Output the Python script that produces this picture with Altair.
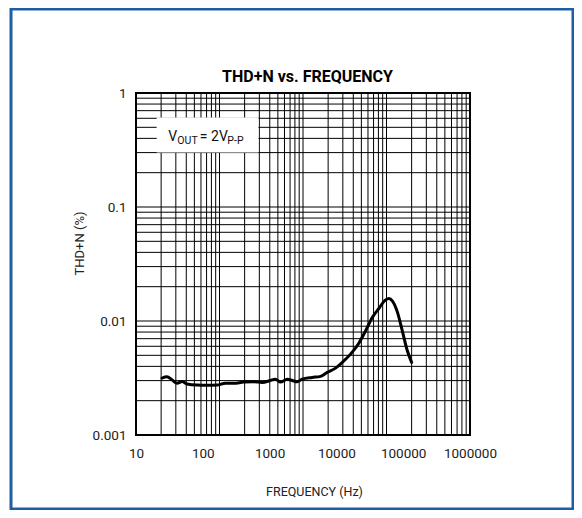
import altair as alt
import pandas as pd

# ---- data ----
FREQ_HZ = [24.5, 29.1, 34.6, 41.2, 48.9, 58.1, 82.1, 115.9, 163.7, 218, 290, 410, 579,
           774, 1030, 1224, 1455, 1834, 2179, 2589, 3076, 4345, 5786, 7290, 9707, 12230,
           16290, 21690, 27340, 34450, 43260, 54510, 61090, 68700, 81640, 97000, 115300, 133700]
THDN_PCT = [0.00316, 0.00324, 0.00305, 0.00284, 0.00295, 0.00280, 0.00274, 0.00273, 0.00274,
            0.00285, 0.00284, 0.00291, 0.00293, 0.00289, 0.00301, 0.00309, 0.00291, 0.00308,
            0.00301, 0.00293, 0.00309, 0.00320, 0.00327, 0.00354, 0.00386, 0.00433, 0.00512,
            0.00639, 0.00820, 0.01074, 0.01288, 0.01532, 0.01575, 0.01501, 0.01202, 0.00820,
            0.00548, 0.00433]

X_TICKS = [10, 100, 1000, 10000, 100000, 1000000]
Y_TICKS = [0.001, 0.01, 0.1, 1]
GRID_MULT = [1, 2, 3, 4, 5, 6, 7, 8, 9]
GRID_X_DECADES = [10, 100, 1000, 10000]      # printed grid paper: 4 log decades across the width
GRID_Y_DECADES = [0.001, 0.01, 0.1]

TITLE = "THD+N vs. FREQUENCY"
X_TITLE = "FREQUENCY (Hz)"
Y_TITLE = "THD+N (%)"

grid_x = [m * d for d in GRID_X_DECADES for m in GRID_MULT] + [100000]
grid_y = [m * d for d in GRID_Y_DECADES for m in GRID_MULT] + [1]

FONT = "Roboto"
BLUE = "#1d5fa6"
W, H = 334, 342

xs = alt.Scale(type="log", domain=[10, 1000000], nice=False)
ys = alt.Scale(type="log", domain=[0.001, 1], nice=False)

curve_df = pd.DataFrame({"freq": FREQ_HZ, "thdn": THDN_PCT})

# grid paper has 4 decades over the 5 labelled decades: map onto the labelled scale
vgrid = alt.Chart(pd.DataFrame({"g": grid_x})).transform_calculate(
    f="pow(10, 1 + (log(datum.g) / LN10 - 1) * 5 / 4)"
).mark_rule(color="black", strokeWidth=1).encode(
    x=alt.X("f:Q", scale=xs)
)

hgrid = alt.Chart(pd.DataFrame({"v": grid_y})).mark_rule(
    color="black", strokeWidth=1
).encode(y=alt.Y("v:Q", scale=ys))

box = alt.Chart(pd.DataFrame({"x1": [20.4], "x2": [681], "y1": [0.30], "y2": [0.61]})).mark_rect(
    fill="white"
).encode(
    x=alt.X("x1:Q", scale=xs), x2="x2:Q",
    y=alt.Y("y1:Q", scale=ys), y2="y2:Q",
)

anchor = pd.DataFrame({"f": [30.5], "v": [0.378], "vs": [0.3575]})


def piece(text, dx, size, sub):
    return alt.Chart(anchor).mark_text(
        text=text, dx=dx, align="left", baseline="alphabetic",
        font=FONT, fontSize=size, color="#111"
    ).encode(
        x=alt.X("f:Q", scale=xs),
        y=alt.Y("vs:Q" if sub else "v:Q", scale=ys),
    )


curve = alt.Chart(curve_df).mark_line(
    color="black", strokeWidth=3, interpolate="monotone", strokeCap="round", strokeJoin="round"
).encode(
    x=alt.X("freq:Q", scale=xs, axis=alt.Axis(
        values=X_TICKS, format="d", grid=False, ticks=False, domain=False,
        labelPadding=11, labelFlush=False, labelFont=FONT, labelFontSize=13.5,
        labelColor="#222", title=X_TITLE, titleFont=FONT, titleFontSize=12.5,
        titleFontWeight="normal", titleColor="#222", titleAlign="center",
        titleBaseline="alphabetic", titleX=178, titleY=60)),
    y=alt.Y("thdn:Q", scale=ys, axis=alt.Axis(
        values=Y_TICKS, format="~g", grid=False, ticks=False, domain=False,
        labelPadding=10, labelFlush=False, labelFont=FONT, labelFontSize=13.5,
        labelColor="#222", title=Y_TITLE, titleFont=FONT, titleFontSize=13,
        titleFontWeight="normal", titleColor="#222", titleAlign="center",
        titleBaseline="middle", titleAngle=270, titleX=-57, titleY=150)),
)

title = alt.Chart(anchor).mark_text(
    text=TITLE, font=FONT, fontSize=16, fontWeight="bold", align="center",
    baseline="alphabetic", color="black"
).encode(x=alt.value(171.5), y=alt.value(-11.5))

border = alt.Chart(anchor).mark_rect(
    filled=False, stroke=BLUE, strokeWidth=3
).encode(x=alt.value(-125), x2=alt.value(437), y=alt.value(-84), y2=alt.value(416))

chart = alt.layer(
    vgrid, hgrid, box,
    piece("V", 0, 14, False), piece("OUT", 9, 10.5, True),
    piece("= 2V", 31.5, 14, False), piece("P-P", 59, 10.5, True),
    curve, title, border,
).properties(
    width=W, height=H,
    autosize=alt.AutoSizeParams(type="none"),
    padding={"left": 128, "top": 85, "right": 104, "bottom": 75},
    background="white",
).configure_view(stroke="black", strokeWidth=2)

chart.save("out.html", embed_options={"renderer": "svg", "actions": False})
